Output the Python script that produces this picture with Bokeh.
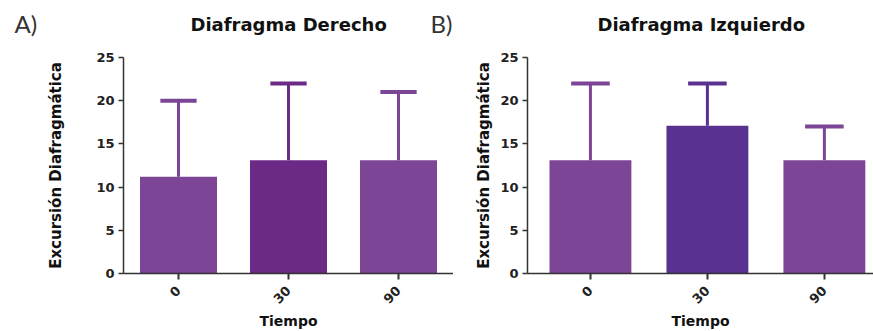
from bokeh.plotting import figure
from bokeh.layouts import row, column
from bokeh.models import Range1d, FixedTicker, ColumnDataSource
from bokeh.embed import file_html
from bokeh.resources import INLINE

categories = ["0", "30", "90"]
der_mean = [11.2, 13.1, 13.1]
der_upper = [20.0, 22.0, 21.0]
izq_mean = [13.1, 17.1, 13.1]
izq_upper = [22.0, 22.0, 17.0]
der_colors = ["#7d4595", "#6b2a85", "#7d4595"]
izq_colors = ["#7d4595", "#5a3190", "#7d4595"]
y_ticks = [0, 5, 10, 15, 20, 25]

FONT = "DejaVu Sans"
TXT = "#222222"
HEAD_H = 45


def header(text, width, offset, font, size, style, color, standoff):
    h = figure(width=width, height=HEAD_H, output_backend="svg", toolbar_location=None,
               x_axis_type=None, y_axis_type=None, x_range=Range1d(0, 1), y_range=Range1d(0, 1),
               min_border_left=0, min_border_right=0, min_border_top=HEAD_H - 4,
               min_border_bottom=0)
    h.outline_line_color = None
    h.grid.visible = False
    h.title.text = text
    h.title.text_font = font
    h.title.text_font_size = size
    h.title.text_font_style = style
    h.title.text_color = color
    h.title.align = "left"
    h.title.offset = offset
    h.title.standoff = standoff
    return h


def make_panel(means, uppers, colors, width, border_left, x_start, x_end, ylabel_standoff):
    p = figure(width=width, height=331 - HEAD_H, output_backend="svg", toolbar_location=None,
               x_range=Range1d(x_start, x_end), y_range=Range1d(0, 25),
               title_location=None,
               min_border_left=border_left, min_border_right=0,
               min_border_top=57 - HEAD_H, min_border_bottom=58)
    p.outline_line_color = None
    p.grid.visible = False
    p.background_fill_color = "white"
    p.border_fill_color = "white"

    xs = list(range(len(categories)))
    src = ColumnDataSource(dict(x=xs, top=means, up=uppers, color=colors,
                                cl=[x - 0.165 for x in xs], cr=[x + 0.165 for x in xs]))
    p.segment(x0="x", y0="top", x1="x", y1="up", source=src, line_color="color", line_width=3)
    p.segment(x0="cl", y0="up", x1="cr", y1="up", source=src, line_color="color", line_width=4)
    p.vbar(x="x", top="top", bottom=0, width=0.7, source=src, fill_color="color", line_color=None)

    ya = p.yaxis[0]
    ya.ticker = FixedTicker(ticks=y_ticks)
    ya.minor_tick_line_color = None
    ya.major_tick_in = 0
    ya.major_tick_out = 5
    ya.axis_line_width = 1.5
    ya.major_tick_line_width = 1.5
    ya.axis_line_color = "#333333"
    ya.major_tick_line_color = "#333333"
    ya.major_label_text_font = FONT
    ya.major_label_text_font_style = "bold"
    ya.major_label_text_font_size = "13px"
    ya.major_label_text_color = TXT
    ya.major_label_standoff = 4
    ya.axis_label = "Excursión Diafragmática"
    ya.axis_label_text_font = FONT
    ya.axis_label_text_font_style = "bold"
    ya.axis_label_text_font_size = "15px"
    ya.axis_label_text_color = "#111111"
    ya.axis_label_standoff = ylabel_standoff

    xa = p.xaxis[0]
    xa.ticker = FixedTicker(ticks=xs)
    xa.major_label_overrides = {i: c for i, c in enumerate(categories)}
    xa.minor_tick_line_color = None
    xa.major_tick_in = 0
    xa.major_tick_out = 6
    xa.axis_line_width = 1.5
    xa.major_tick_line_width = 2
    xa.axis_line_color = "#333333"
    xa.major_tick_line_color = "#333333"
    xa.major_label_orientation = 0.785
    xa.major_label_text_font = FONT
    xa.major_label_text_font_style = "bold"
    xa.major_label_text_font_size = "13px"
    xa.major_label_text_color = TXT
    xa.major_label_standoff = 9
    xa.axis_label = "Tiempo"
    xa.axis_label_text_font = FONT
    xa.axis_label_text_font_style = "bold"
    xa.axis_label_text_font_size = "14px"
    xa.axis_label_text_color = "#111111"
    xa.axis_label_standoff = 2
    return p


hA = header("A)", 123, 14, "Lato", "24px", "normal", "#333333", 7)
hL = header("Diafragma Derecho", 307, 67, FONT, "18px", "bold", "#111111", 13)
hB = header("B)", 97, 0, "Lato", "24px", "normal", "#333333", 7)
hR = header("Diafragma Izquierdo", 346, 70, FONT, "18px", "bold", "#111111", 13)

left = make_panel(der_mean, der_upper, der_colors, 453, 123, -0.5, 2.5, 28)
right = make_panel(izq_mean, izq_upper, izq_colors, 420, 74, -0.538, 2.42, 4)

layout = column(row(hA, hL, hB, hR), row(left, right))
open("out.html", "w").write(file_html(layout, INLINE))
